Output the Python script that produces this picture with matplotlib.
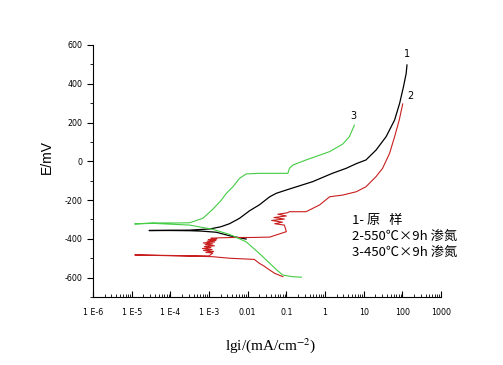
import numpy as np
import matplotlib
matplotlib.use('Agg')
import matplotlib.pyplot as plt
from matplotlib.ticker import FixedLocator, MultipleLocator

plt.rcParams['axes.unicode_minus'] = False
plt.rcParams['mathtext.fontset'] = 'stix'

# log10(i) and E (mV)
# curve 1 : original sample
lgi_1 = [-2.04, -2.45, -2.81, -3.20, -3.50, -4.00, -4.55,
         -4.00, -3.50, -2.98, -2.70, -2.47, -2.21, -1.95, -1.70, -1.43, -1.26, -1.00,
         -0.32, 0.19, 0.55, 0.81, 1.06, 1.32, 1.58, 1.80, 1.93, 2.03, 2.10, 2.12]
E_1 = [-401, -385, -366, -360, -358, -357, -357,
       -356, -355, -349, -338, -322, -294, -255, -225, -183, -165, -148,
       -105, -62, -36, -12, 7, 58, 127, 213, 299, 385, 454, 497]

# curve 2 : 550C x 9h nitrided
lgi_2 = [-1.09, -1.30, -1.43, -1.58, -1.70, -1.83, -2.47, -2.91, -3.59, -4.92,
         -3.59, -3.00, -2.90, -3.08, -2.88, -3.14, -2.92, -3.17, -2.95, -3.12, -2.86,
         -3.10, -2.90, -3.15, -2.85, -3.05, -2.82, -3.02, -2.80, -2.95, -2.78,
         -2.40, -1.90, -1.43, -1.00, -1.05, -1.30, -1.10, -1.38, -1.05, -1.32, -1.00,
         -1.22, -0.98, -0.92,
         -0.49, -0.40, -0.14, 0.12, 0.46, 0.81, 1.06, 1.32, 1.49, 1.67, 1.80, 1.92, 2.01]
E_2 = [-595, -578, -561, -540, -526, -506, -500, -492, -489, -483,
       -487, -488, -473, -470, -465, -460, -455, -450, -445, -440, -436,
       -430, -426, -421, -416, -412, -408, -404, -400, -397, -395,
       -393, -393, -391, -363, -329, -322, -314, -305, -298, -290, -282,
       -273, -266, -260,
       -260, -251, -225, -183, -174, -157, -131, -79, -36, 41, 127, 213, 296]

# curve 3 : 450C x 9h nitrided
lgi_3 = [-0.61, -0.85, -1.09, -1.25, -1.43, -1.70, -2.04, -2.47, -2.90, -3.50, -4.45, -4.92,
         -4.45, -3.80, -3.50, -3.16, -2.90, -2.68, -2.55, -2.38, -2.21, -2.04,
         -1.69, -1.18, -0.96, -0.92, -0.83, -0.49, 0.12, 0.46, 0.63, 0.76]
E_3 = [-598, -595, -587, -560, -526, -475, -415, -377, -351, -329, -320, -323,
       -318, -318, -317, -294, -247, -200, -165, -131, -88, -65,
       -62, -62, -62, -36, -19, 7, 50, 89, 127, 187]

xticks = [1e-6, 1e-5, 1e-4, 1e-3, 0.01, 0.1, 1, 10, 100, 1000]
xlabels = ['1 E-6', '1 E-5', '1 E-4', '1 E-3', '0.01', '0.1', '1', '10', '100', '1000']
legend_lines = ['1- 原   样', '2-550℃×9h 渗氮', '3-450℃×9h 渗氮']

fig = plt.figure(figsize=(5.03, 3.65), dpi=100)
ax = fig.add_axes([93 / 503, 68 / 365, 348 / 503, 252 / 365])

ax.plot(10 ** np.array(lgi_1), E_1, color='black', lw=0.9)
ax.plot(10 ** np.array(lgi_2), E_2, color='#c81e1e', lw=0.8)
ax.plot(10 ** np.array(lgi_3), E_3, color='#44cc44', lw=0.8)

ax.set_xscale('log')
ax.set_xlim(1e-6, 1000)
ax.set_ylim(-700, 600)
ax.xaxis.set_major_locator(FixedLocator(xticks))
ax.set_xticklabels(xlabels)
ax.xaxis.set_minor_locator(matplotlib.ticker.LogLocator(base=10, subs=np.arange(2, 10)))
ax.xaxis.set_minor_formatter(matplotlib.ticker.NullFormatter())
ax.yaxis.set_major_locator(MultipleLocator(200))
ax.yaxis.set_minor_locator(MultipleLocator(100))

ax.spines['top'].set_visible(False)
ax.spines['right'].set_visible(False)
ax.tick_params(axis='x', which='both', direction='in', labelsize=5.7, pad=8)
ax.tick_params(axis='x', which='major', length=4)
ax.tick_params(axis='x', which='minor', length=2.5)
ax.tick_params(axis='y', which='both', direction='out', labelsize=5.7)
ax.tick_params(axis='y', which='major', length=4)
ax.tick_params(axis='y', which='minor', length=2.5)

ax.set_ylabel('E/mV', fontsize=10, family='Liberation Sans')
ax.yaxis.set_label_coords(-0.112, 0.556)
ax.set_xlabel('lgi/(mA/cm$^{-2}$)', fontsize=11, family='Liberation Serif')
ax.xaxis.set_label_coords(0.509, -0.155)

ax.text(10 ** 2.12, 530, '1', fontsize=7, ha='center', va='bottom')
ax.text(10 ** 2.22, 310, '2', fontsize=7, ha='center', va='bottom')
ax.text(10 ** 0.73, 210, '3', fontsize=7, ha='center', va='bottom')

for k, s in enumerate(legend_lines):
    ax.text(10 ** 0.71, -303 - k * 83, s, fontsize=9.5,
            family=['Noto Sans CJK SC', 'DejaVu Sans'], ha='left', va='center')

fig.savefig('out.png', dpi=100)
